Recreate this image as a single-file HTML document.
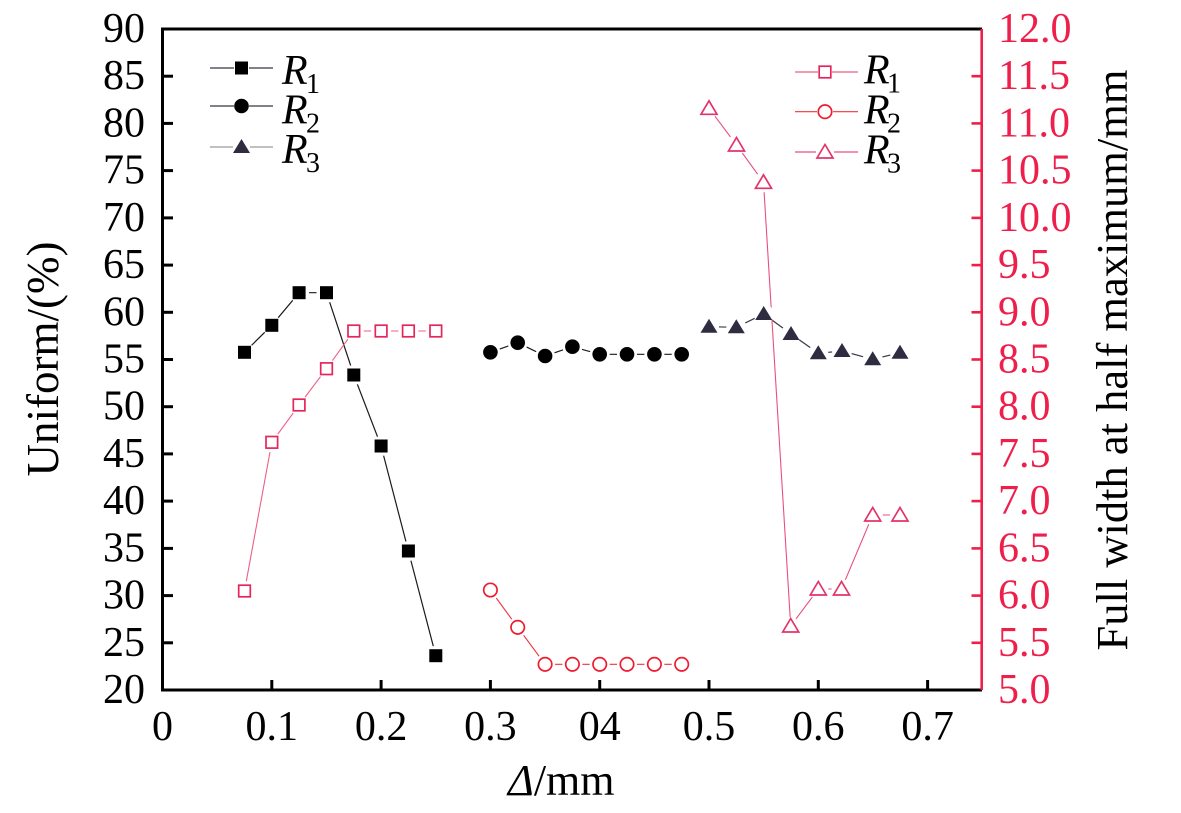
<!DOCTYPE html>
<html>
<head>
<meta charset="utf-8">
<style>
  html, body { margin: 0; padding: 0; background: #ffffff; }
  svg { display: block; }
  text { font-family: "Liberation Serif", "DejaVu Serif", serif; }
</style>
</head>
<body>
<svg width="1181" height="813" viewBox="0 0 1181 813" xmlns="http://www.w3.org/2000/svg">
  <rect width="1181" height="813" fill="#ffffff"/>

  <!-- ===== Data lines ===== -->
  <polyline fill="none" stroke="#1a1a1a" stroke-width="1.2"
    points="244.5,352.3 271.8,325.3 299.1,292.7 326.5,292.7 353.8,375 381.1,446 408.4,551 435.8,655.7"/>
  <polyline fill="none" stroke="#1a1a1a" stroke-width="1.2"
    points="490.4,352.3 517.7,342.7 545.1,356 572.4,346.7 599.7,354.3 627,354.3 654.4,354.3 681.7,354.3"/>
  <polyline fill="none" stroke="#3a3848" stroke-width="1.2"
    points="709,326.7 736.3,327.3 763.7,314 791,334 818.3,353.3 842,351 872.7,359.3 900,352.7"/>
  <polyline fill="none" stroke="#ee5f85" stroke-width="1.1"
    points="244.5,591 271.8,442.3 299.1,405 326.5,368.7 353.8,331 381.1,331 408.4,331 435.8,331"/>
  <polyline fill="none" stroke="#f0333f" stroke-width="1.1"
    points="490.4,590 517.7,627.3 545.1,664.3 572.4,664.3 599.7,664.3 627,664.3 654.4,664.3 681.7,664.3"/>
  <polyline fill="none" stroke="#ea4f7c" stroke-width="1.1"
    points="709,108.3 736.5,145 763.5,182.3 790.7,626 818.3,589 841.5,589 872.7,515 900,515"/>

  <!-- ===== Halos ===== -->
  <g fill="#ffffff">
    <circle cx="244.5" cy="352.3" r="10"/><circle cx="271.8" cy="325.3" r="10"/><circle cx="299.1" cy="292.7" r="10"/><circle cx="326.5" cy="292.7" r="10"/>
    <circle cx="353.8" cy="375" r="10"/><circle cx="381.1" cy="446" r="10"/><circle cx="408.4" cy="551" r="10"/><circle cx="435.8" cy="655.7" r="10"/>
    <circle cx="490.4" cy="352.3" r="10"/><circle cx="517.7" cy="342.7" r="10"/><circle cx="545.1" cy="356" r="10"/><circle cx="572.4" cy="346.7" r="10"/>
    <circle cx="599.7" cy="354.3" r="10"/><circle cx="627" cy="354.3" r="10"/><circle cx="654.4" cy="354.3" r="10"/><circle cx="681.7" cy="354.3" r="10"/>
    <circle cx="709" cy="326.7" r="10"/><circle cx="736.3" cy="327.3" r="10"/><circle cx="763.7" cy="314" r="10"/><circle cx="791" cy="334" r="10"/>
    <circle cx="818.3" cy="353.3" r="10"/><circle cx="842" cy="351" r="10"/><circle cx="872.7" cy="359.3" r="10"/><circle cx="900" cy="352.7" r="10"/>
    <circle cx="244.5" cy="591" r="10"/><circle cx="271.8" cy="442.3" r="10"/><circle cx="299.1" cy="405" r="10"/><circle cx="326.5" cy="368.7" r="10"/>
    <circle cx="353.8" cy="331" r="10"/><circle cx="381.1" cy="331" r="10"/><circle cx="408.4" cy="331" r="10"/><circle cx="435.8" cy="331" r="10"/>
    <circle cx="490.4" cy="590" r="10"/><circle cx="517.7" cy="627.3" r="10"/><circle cx="545.1" cy="664.3" r="10"/><circle cx="572.4" cy="664.3" r="10"/>
    <circle cx="599.7" cy="664.3" r="10"/><circle cx="627" cy="664.3" r="10"/><circle cx="654.4" cy="664.3" r="10"/><circle cx="681.7" cy="664.3" r="10"/>
    <circle cx="709" cy="108.3" r="10"/><circle cx="736.5" cy="145" r="10"/><circle cx="763.5" cy="182.3" r="10"/><circle cx="790.7" cy="626" r="9"/>
    <circle cx="818.3" cy="589" r="10"/><circle cx="841.5" cy="589" r="10"/><circle cx="872.7" cy="515" r="10"/><circle cx="900" cy="515" r="10"/>
  </g>

  <!-- ===== Markers ===== -->
  <g fill="#000000">
    <rect x="238" y="345.8" width="13" height="13"/>
    <rect x="265.3" y="318.8" width="13" height="13"/>
    <rect x="292.6" y="286.2" width="13" height="13"/>
    <rect x="320" y="286.2" width="13" height="13"/>
    <rect x="347.3" y="368.5" width="13" height="13"/>
    <rect x="374.6" y="439.5" width="13" height="13"/>
    <rect x="401.9" y="544.5" width="13" height="13"/>
    <rect x="429.3" y="649.2" width="13" height="13"/>
  </g>
  <g fill="#000000">
    <circle cx="490.4" cy="352.3" r="7.3"/>
    <circle cx="517.7" cy="342.7" r="7.3"/>
    <circle cx="545.1" cy="356" r="7.3"/>
    <circle cx="572.4" cy="346.7" r="7.3"/>
    <circle cx="599.7" cy="354.3" r="7.3"/>
    <circle cx="627" cy="354.3" r="7.3"/>
    <circle cx="654.4" cy="354.3" r="7.3"/>
    <circle cx="681.7" cy="354.3" r="7.3"/>
  </g>
  <g fill="#2e2c40">
    <polygon points="709,318.7 700.5,332.7 717.5,332.7"/>
    <polygon points="736.3,319.3 727.8,333.3 744.8,333.3"/>
    <polygon points="763.7,306 755.2,320 772.2,320"/>
    <polygon points="791,326 782.5,340 799.5,340"/>
    <polygon points="818.3,345.3 809.8,359.3 826.8,359.3"/>
    <polygon points="842,343 833.5,357 850.5,357"/>
    <polygon points="872.7,351.3 864.2,365.3 881.2,365.3"/>
    <polygon points="900,344.7 891.5,358.7 908.5,358.7"/>
  </g>
  <g fill="none" stroke="#e5265a" stroke-width="1.7">
    <rect x="238.7" y="585.2" width="11.6" height="11.6"/>
    <rect x="266" y="436.5" width="11.6" height="11.6"/>
    <rect x="293.3" y="399.2" width="11.6" height="11.6"/>
    <rect x="320.7" y="362.9" width="11.6" height="11.6"/>
    <rect x="348" y="325.2" width="11.6" height="11.6"/>
    <rect x="375.3" y="325.2" width="11.6" height="11.6"/>
    <rect x="402.6" y="325.2" width="11.6" height="11.6"/>
    <rect x="430" y="325.2" width="11.6" height="11.6"/>
  </g>
  <g fill="none" stroke="#ee1c2e" stroke-width="1.7">
    <circle cx="490.4" cy="590" r="6.7"/>
    <circle cx="517.7" cy="627.3" r="6.7"/>
    <circle cx="545.1" cy="664.3" r="6.7"/>
    <circle cx="572.4" cy="664.3" r="6.7"/>
    <circle cx="599.7" cy="664.3" r="6.7"/>
    <circle cx="627" cy="664.3" r="6.7"/>
    <circle cx="654.4" cy="664.3" r="6.7"/>
    <circle cx="681.7" cy="664.3" r="6.7"/>
  </g>
  <g fill="none" stroke="#e4336a" stroke-width="1.7" stroke-linejoin="miter">
    <polygon points="709,100.8 701,114.3 717,114.3"/>
    <polygon points="736.5,137.5 728.5,151 744.5,151"/>
    <polygon points="763.5,174.8 755.5,188.3 771.5,188.3"/>
    <polygon points="790.7,618.5 782.7,632 798.7,632"/>
    <polygon points="818.3,581.5 810.3,595 826.3,595"/>
    <polygon points="841.5,581.5 833.5,595 849.5,595"/>
    <polygon points="872.7,507.5 864.7,521 880.7,521"/>
    <polygon points="900,507.5 892,521 908,521"/>
  </g>

  <!-- ===== Axes ===== -->
  <line x1="161" y1="29" x2="982" y2="29" stroke="#000" stroke-width="3"/>
  <line x1="161" y1="690" x2="982" y2="690" stroke="#000" stroke-width="3"/>
  <line x1="162.5" y1="27.5" x2="162.5" y2="691.5" stroke="#000" stroke-width="3"/>
  <line x1="981.7" y1="29" x2="981.7" y2="690" stroke="#ee1f4b" stroke-width="2.6"/>

  <g stroke="#000" stroke-width="3">
    <line x1="162.5" y1="642.8" x2="173" y2="642.8"/>
    <line x1="162.5" y1="595.6" x2="173" y2="595.6"/>
    <line x1="162.5" y1="548.4" x2="173" y2="548.4"/>
    <line x1="162.5" y1="501.1" x2="173" y2="501.1"/>
    <line x1="162.5" y1="453.9" x2="173" y2="453.9"/>
    <line x1="162.5" y1="406.7" x2="173" y2="406.7"/>
    <line x1="162.5" y1="359.5" x2="173" y2="359.5"/>
    <line x1="162.5" y1="312.3" x2="173" y2="312.3"/>
    <line x1="162.5" y1="265.1" x2="173" y2="265.1"/>
    <line x1="162.5" y1="217.9" x2="173" y2="217.9"/>
    <line x1="162.5" y1="170.6" x2="173" y2="170.6"/>
    <line x1="162.5" y1="123.4" x2="173" y2="123.4"/>
    <line x1="162.5" y1="76.2" x2="173" y2="76.2"/>
  </g>
  <g stroke="#000" stroke-width="3">
    <line x1="271.8" y1="690" x2="271.8" y2="680"/>
    <line x1="381.1" y1="690" x2="381.1" y2="680"/>
    <line x1="490.4" y1="690" x2="490.4" y2="680"/>
    <line x1="599.7" y1="690" x2="599.7" y2="680"/>
    <line x1="709" y1="690" x2="709" y2="680"/>
    <line x1="818.3" y1="690" x2="818.3" y2="680"/>
    <line x1="927.6" y1="690" x2="927.6" y2="680"/>
  </g>
  <g stroke="#ee1f4b" stroke-width="2.6">
    <line x1="981.7" y1="642.8" x2="971.5" y2="642.8"/>
    <line x1="981.7" y1="595.6" x2="971.5" y2="595.6"/>
    <line x1="981.7" y1="548.4" x2="971.5" y2="548.4"/>
    <line x1="981.7" y1="501.1" x2="971.5" y2="501.1"/>
    <line x1="981.7" y1="453.9" x2="971.5" y2="453.9"/>
    <line x1="981.7" y1="406.7" x2="971.5" y2="406.7"/>
    <line x1="981.7" y1="359.5" x2="971.5" y2="359.5"/>
    <line x1="981.7" y1="312.3" x2="971.5" y2="312.3"/>
    <line x1="981.7" y1="265.1" x2="971.5" y2="265.1"/>
    <line x1="981.7" y1="217.9" x2="971.5" y2="217.9"/>
    <line x1="981.7" y1="170.6" x2="971.5" y2="170.6"/>
    <line x1="981.7" y1="123.4" x2="971.5" y2="123.4"/>
    <line x1="981.7" y1="76.2" x2="971.5" y2="76.2"/>
  </g>

  <g font-size="42" fill="#000" text-anchor="end">
    <text x="145" y="703">20</text>
    <text x="145" y="655.8">25</text>
    <text x="145" y="608.6">30</text>
    <text x="145" y="561.4">35</text>
    <text x="145" y="514.1">40</text>
    <text x="145" y="466.9">45</text>
    <text x="145" y="419.7">50</text>
    <text x="145" y="372.5">55</text>
    <text x="145" y="325.3">60</text>
    <text x="145" y="278.1">65</text>
    <text x="145" y="230.9">70</text>
    <text x="145" y="183.6">75</text>
    <text x="145" y="136.4">80</text>
    <text x="145" y="89.2">85</text>
    <text x="145" y="42">90</text>
  </g>

  <g font-size="42" fill="#000" text-anchor="middle">
    <text x="162.5" y="740">0</text>
    <text x="271.8" y="740">0.1</text>
    <text x="381.1" y="740">0.2</text>
    <text x="490.4" y="740">0.3</text>
    <text x="599.7" y="740">04</text>
    <text x="709" y="740">0.5</text>
    <text x="818.3" y="740">0.6</text>
    <text x="927.6" y="740">0.7</text>
  </g>

  <g font-size="42" fill="#ee1f4b" text-anchor="start">
    <text x="998" y="703">5.0</text>
    <text x="998" y="655.8">5.5</text>
    <text x="998" y="608.6">6.0</text>
    <text x="998" y="561.4">6.5</text>
    <text x="998" y="514.1">7.0</text>
    <text x="998" y="466.9">7.5</text>
    <text x="998" y="419.7">8.0</text>
    <text x="998" y="372.5">8.5</text>
    <text x="998" y="325.3">9.0</text>
    <text x="998" y="278.1">9.5</text>
    <text x="998" y="230.9">10.0</text>
    <text x="998" y="183.6">10.5</text>
    <text x="998" y="136.4">11.0</text>
    <text x="998" y="89.2">11.5</text>
    <text x="998" y="42">12.0</text>
  </g>

  <text font-size="45" fill="#000" text-anchor="middle" transform="translate(58,359) rotate(-90)">Uniform/(%)</text>
  <text font-size="44.5" fill="#000" text-anchor="middle" transform="translate(1127,360) rotate(-90)">Full width at half maximum/mm</text>
  <text font-size="44" fill="#000" x="508" y="795"><tspan font-style="italic">Δ</tspan>/mm</text>

  <!-- ===== Left legend ===== -->
  <g>
    <line x1="210" y1="68" x2="234" y2="68" stroke="#3a3444" stroke-width="1.3"/>
    <line x1="249" y1="68" x2="273" y2="68" stroke="#3a3444" stroke-width="1.3"/>
    <rect x="235" y="61.5" width="13" height="13" fill="#000"/>

    <line x1="210" y1="106" x2="234" y2="106" stroke="#3a3444" stroke-width="1.3"/>
    <line x1="249" y1="106" x2="273" y2="106" stroke="#3a3444" stroke-width="1.3"/>
    <circle cx="241.5" cy="106" r="7.3" fill="#000"/>

    <line x1="210" y1="147" x2="233" y2="147" stroke="#9a9a9a" stroke-width="1.3"/>
    <line x1="250" y1="147" x2="273" y2="147" stroke="#9a9a9a" stroke-width="1.3"/>
    <polygon points="241.5,139 233,153 250,153" fill="#2e2c40"/>

    <text x="282" y="84" font-size="42" font-style="italic">R</text>
    <text x="306" y="93" font-size="28">1</text>
    <text x="282" y="123.5" font-size="42" font-style="italic">R</text>
    <text x="306" y="132.5" font-size="28">2</text>
    <text x="282" y="163" font-size="42" font-style="italic">R</text>
    <text x="306" y="172" font-size="28">3</text>
  </g>

  <!-- ===== Right legend ===== -->
  <g>
    <line x1="795" y1="72" x2="818" y2="72" stroke="#ee5f85" stroke-width="1.2"/>
    <line x1="832" y1="72" x2="858" y2="72" stroke="#ee5f85" stroke-width="1.2"/>
    <rect x="819.2" y="66.2" width="11.6" height="11.6" fill="none" stroke="#e5265a" stroke-width="1.7"/>

    <line x1="795" y1="111.7" x2="817" y2="111.7" stroke="#f0333f" stroke-width="1.2"/>
    <line x1="833" y1="111.7" x2="858" y2="111.7" stroke="#f0333f" stroke-width="1.2"/>
    <circle cx="825" cy="111.7" r="6.7" fill="none" stroke="#ee1c2e" stroke-width="1.7"/>

    <line x1="795" y1="152" x2="816" y2="152" stroke="#ea4f7c" stroke-width="1.2"/>
    <line x1="834" y1="152" x2="858" y2="152" stroke="#ea4f7c" stroke-width="1.2"/>
    <polygon points="825,144.5 817,158 833,158" fill="none" stroke="#e4336a" stroke-width="1.7"/>

    <text x="864" y="83.5" font-size="42" font-style="italic">R</text>
    <text x="887" y="92.5" font-size="28">1</text>
    <text x="864" y="123.3" font-size="42" font-style="italic">R</text>
    <text x="887" y="132.3" font-size="28">2</text>
    <text x="864" y="163.3" font-size="42" font-style="italic">R</text>
    <text x="887" y="172.3" font-size="28">3</text>
  </g>
</svg>
</body>
</html>
